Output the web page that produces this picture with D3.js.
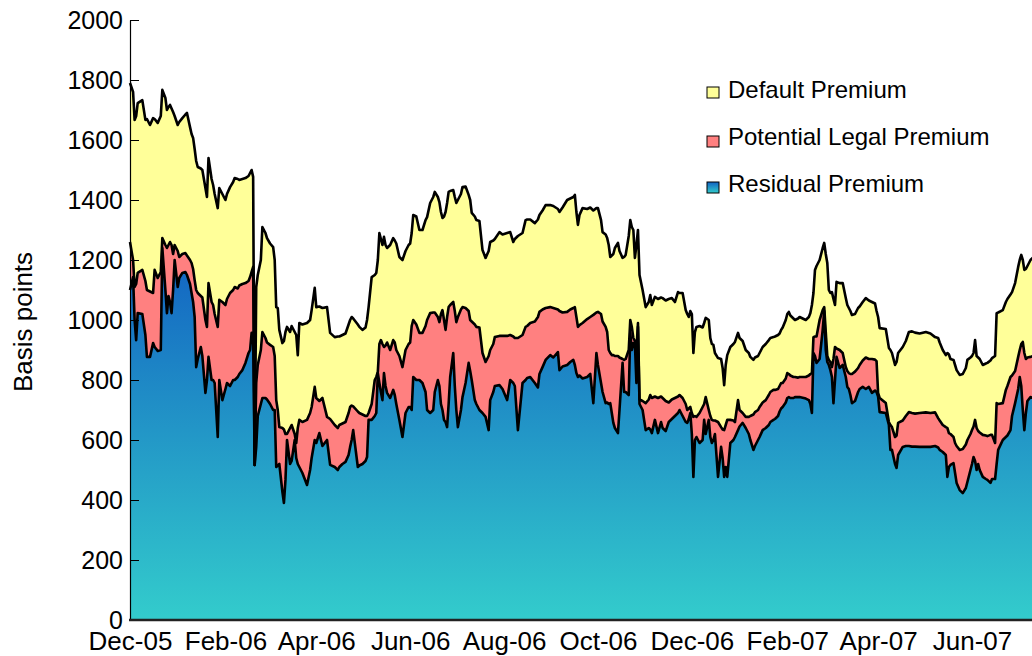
<!DOCTYPE html>
<html>
<head>
<meta charset="utf-8">
<script src="https://cdn.jsdelivr.net/npm/d3@7"></script>
<style>
html,body{margin:0;padding:0;background:#fff;}
svg{display:block;}
text{font-family:Arial,"Liberation Sans",sans-serif;fill:#000;}
</style>
</head>
<body>
<svg id="chart" width="1032" height="656"></svg>
<script>
// Days since 1 Dec 2005 for each observation
const dayOffsets = [0,2,3,4,5,8,10,11,13,15,16,18,20,21,23,24,25,26,27,28,29,31,32,34,36,37,39,40,41,42,43,44,46,47,49,50,51,53,54,55,57,58,60,62,63,65,67,68,70,71,73,75,77,78,79,80,81,82,83,85,86,88,89,91,93,94,95,96,97,99,100,101,102,104,105,107,108,109,110,112,115,117,118,120,121,123,125,128,130,133,135,136,138,140,142,143,144,145,148,149,151,153,154,155,157,159,160,161,162,163,164,165,166,167,169,171,172,173,175,177,179,181,182,183,184,186,188,190,192,193,195,197,198,200,201,202,203,204,205,206,207,208,210,211,212,213,215,216,218,220,221,222,224,225,227,229,231,233,234,236,237,240,242,245,247,249,250,252,255,257,258,260,263,265,266,268,270,273,275,278,279,281,284,286,288,289,290,291,292,294,297,299,301,303,304,306,307,309,310,311,312,313,314,315,317,318,320,321,322,324,325,326,327,328,329,330,331,333,335,337,338,339,341,343,345,346,348,350,352,354,356,357,359,361,362,363,364,365,366,367,368,370,372,373,374,376,377,378,379,380,382,384,385,386,387,388,390,392,393,395,396,398,400,402,403,405,406,408,409,411,413,415,416,418,419,421,422,423,424,426,427,428,429,431,432,434,435,439,441,442,443,444,445,446,448,450,451,452,453,454,455,456,457,458,459,461,463,465,466,467,468,469,471,473,474,476,478,480,482,484,485,486,487,491,493,494,495,497,498,499,502,504,506,508,510,513,517,520,523,525,526,528,530,531,532,533,535,536,537,539,541,543,544,546,547,548,549,550,551,552,554,556,557,559,560,562,563,564,567,569,570,572,573,575,577,578,579,580,581,582,583,585,587];

const residualPremium = [1100,1143,1000,933,1023,1020,950,877,877,923,910,897,900,1240,1100,1023,1080,1060,1023,1100,1200,1110,1140,1157,1160,1150,1120,1090,1060,1010,843,870,910,880,757,800,877,800,800,790,610,800,733,770,790,780,800,800,810,820,833,857,890,900,957,957,517,577,680,720,740,740,735,720,700,700,510,515,520,427,390,467,600,520,530,600,540,520,510,490,450,500,540,600,590,623,580,600,517,510,500,510,520,527,550,577,600,633,510,515,520,530,543,667,667,680,690,823,790,760,733,823,780,757,740,767,750,720,667,610,690,710,710,700,810,800,800,790,760,700,690,700,760,800,780,720,700,667,660,643,720,810,890,780,700,643,700,743,790,857,830,800,733,720,700,690,677,633,733,760,780,783,770,733,800,790,780,633,790,800,807,810,790,775,820,843,867,883,875,893,833,845,850,860,867,850,823,810,815,805,810,820,723,890,850,790,760,723,725,720,723,690,657,640,623,700,857,760,760,750,957,900,923,923,790,977,720,700,633,640,635,623,667,623,660,640,630,660,670,680,690,700,680,660,657,670,690,620,477,600,610,590,600,667,620,667,610,590,600,620,477,577,540,477,510,477,590,600,610,633,645,657,640,620,600,567,580,600,610,633,640,650,660,667,670,680,695,705,710,725,740,743,740,740,743,743,743,738,733,720,690,890,880,857,870,967,1030,900,860,850,833,810,723,800,877,840,850,810,777,770,750,723,730,760,770,777,770,777,757,765,760,745,693,690,650,567,567,520,507,550,577,580,580,578,578,577,577,577,580,575,567,560,550,477,510,517,523,490,457,433,423,440,460,500,520,543,530,500,520,500,477,470,467,457,470,470,520,567,600,610,615,633,680,723,770,810,780,700,633,690,730,743,740];

const legalPremium = [160,57,110,187,134,147,180,223,218,167,257,243,260,33,150,217,170,200,227,120,50,120,70,63,63,65,80,100,110,123,257,220,170,195,243,177,246,260,250,230,367,267,327,280,280,310,300,310,295,295,287,266,240,243,203,220,0,213,170,180,220,200,190,197,210,180,223,185,123,213,245,153,20,120,120,20,50,120,157,170,217,190,170,177,150,107,160,77,153,140,140,140,135,133,140,133,115,79,185,175,165,150,137,23,53,120,120,4,130,173,187,87,135,168,160,166,175,180,213,233,210,210,215,280,190,185,157,167,220,300,333,325,265,210,213,300,333,333,307,367,323,240,170,250,293,367,335,300,250,173,170,195,252,257,275,200,183,247,167,160,163,164,177,214,150,155,160,307,160,177,173,180,205,235,207,192,173,160,165,142,197,180,177,175,173,193,187,167,168,185,193,190,294,135,177,230,235,254,235,180,167,193,226,240,257,175,13,107,110,150,43,77,17,7,110,13,15,30,90,95,115,117,78,117,85,100,100,65,65,60,55,50,60,60,43,35,20,70,200,80,67,100,110,53,123,33,70,77,65,45,183,66,95,156,140,190,77,65,50,100,55,33,37,57,80,118,113,100,100,92,93,100,100,100,97,90,85,85,80,80,83,77,75,70,67,65,67,72,82,100,133,53,65,88,130,66,13,60,20,17,27,33,147,110,28,60,40,33,53,53,70,97,98,80,80,88,105,93,113,103,103,12,47,33,10,83,76,90,108,107,88,100,113,112,110,113,115,113,112,98,98,90,93,163,113,103,87,100,123,134,147,145,140,120,113,102,137,140,110,125,140,145,146,160,147,120,203,153,123,157,165,177,135,107,107,90,140,227,257,180,145,134,140];

const defaultPremium = [530,560,557,560,566,566,537,570,555,583,503,517,520,494,490,460,460,457,455,473,430,420,450,453,462,475,443,430,437,437,430,420,425,425,440,433,417,410,400,400,396,373,360,350,350,353,360,363,365,352,350,350,350,347,340,300,0,320,300,300,350,350,348,338,333,320,310,340,324,283,295,340,357,320,330,340,360,243,323,325,323,310,323,330,303,315,300,366,287,293,305,295,295,295,295,290,295,293,290,287,282,295,320,353,423,350,347,373,370,337,330,367,335,315,350,340,340,355,330,357,330,330,330,310,350,360,343,343,353,343,367,385,402,400,400,340,307,345,393,380,384,380,373,380,397,390,385,400,405,387,400,362,360,356,355,343,347,350,360,345,327,346,338,343,343,315,330,340,340,356,355,345,328,325,323,330,343,340,340,335,330,350,373,370,370,374,350,340,367,383,367,365,348,348,346,313,298,308,313,350,320,332,337,360,377,355,337,343,347,380,333,333,360,277,350,310,415,370,320,325,333,310,332,330,330,333,335,345,338,320,348,340,350,313,320,305,320,330,213,280,300,290,265,270,264,300,260,253,252,225,213,227,205,150,200,216,243,255,267,224,240,240,223,213,197,182,182,180,180,185,187,183,180,176,178,180,175,177,185,195,197,207,200,195,190,197,200,190,195,203,227,147,222,235,200,207,214,260,310,233,230,250,200,140,222,223,233,230,220,217,210,197,192,200,195,195,198,195,190,187,167,253,233,247,247,250,247,240,245,233,245,250,267,272,270,265,268,265,251,267,260,250,240,250,262,250,257,260,253,250,250,255,267,255,247,245,266,240,245,245,233,240,244,248,256,290,300,305,310,293,290,275,278,293,300,300,297,273,277,300,305,323,330];

const seriesNames = ["Residual Premium", "Potential Legal Premium", "Default Premium"];
const legendOrder = ["Default Premium", "Potential Legal Premium", "Residual Premium"];
const xTickLabels = ["Dec-05","Feb-06","Apr-06","Jun-06","Aug-06","Oct-06","Dec-06","Feb-07","Apr-07","Jun-07"];
const yTicks = [0,200,400,600,800,1000,1200,1400,1600,1800,2000];
const yTitle = "Basis points";

const startDate = new Date(Date.UTC(2005, 11, 1));

const n = Math.min(dayOffsets.length, residualPremium.length, legalPremium.length, defaultPremium.length);
const rows = [];
for (let i = 0; i < n; i++) {
  rows.push({
    date: d3.utcDay.offset(startDate, dayOffsets[i]),
    "Residual Premium": residualPremium[i],
    "Potential Legal Premium": legalPremium[i],
    "Default Premium": defaultPremium[i]
  });
}

const W = 1032, H = 656;
const svg = d3.select("#chart");

const x = d3.scaleUtc()
  .domain([startDate, new Date(Date.UTC(2007, 5, 1))])
  .range([130, 972]);
const y = d3.scaleLinear().domain([0, 2000]).range([620, 20]);

const stack = d3.stack().keys(seriesNames);
const layers = stack(rows);

const colors = {
  "Default Premium": "#FFFF99",
  "Potential Legal Premium": "#FF8080",
  "Residual Premium": "url(#resGrad)"
};

const defs = svg.append("defs");
const g1 = defs.append("linearGradient").attr("id", "resGrad")
  .attr("gradientUnits", "userSpaceOnUse")
  .attr("x1", 0).attr("x2", 0)
  .attr("y1", y(d3.max(residualPremium))).attr("y2", y(0));
g1.append("stop").attr("offset", "0%").attr("stop-color", "#1262C2");
g1.append("stop").attr("offset", "100%").attr("stop-color", "#33CCCC");
const g2 = defs.append("linearGradient").attr("id", "resGradBox")
  .attr("x1", 0).attr("x2", 0).attr("y1", 0).attr("y2", 1);
g2.append("stop").attr("offset", "0%").attr("stop-color", "#1262C2");
g2.append("stop").attr("offset", "100%").attr("stop-color", "#33CCCC");

const area = d3.area()
  .x(d => x(d.data.date))
  .y0(d => y(d[0]))
  .y1(d => y(d[1]));
const line = d3.line()
  .x(d => x(d.data.date))
  .y(d => y(d[1]));

svg.append("g").selectAll("path.area")
  .data(layers).join("path")
  .attr("class", "area")
  .attr("fill", d => colors[d.key])
  .attr("d", area);

svg.append("g").selectAll("path.line")
  .data(layers).join("path")
  .attr("class", "line")
  .attr("fill", "none")
  .attr("stroke", "#000")
  .attr("stroke-width", 2.6)
  .attr("stroke-linejoin", "round")
  .attr("d", line);

// Y axis
const yAxis = d3.axisLeft(y).tickValues(yTicks).tickFormat(d3.format("d"))
  .tickSizeInner(-9).tickSizeOuter(0).tickPadding(7);
const gy = svg.append("g").attr("transform", "translate(130,0)").call(yAxis);
gy.select(".domain").attr("stroke", "#000").attr("stroke-width", 1.2);
gy.selectAll(".tick line").attr("stroke", "#000");
gy.selectAll("text").attr("font-size", 25).attr("font-family", "Arial, 'Liberation Sans', sans-serif");

// X axis labels
const labelDates = xTickLabels.map((s, i) => d3.utcMonth.offset(startDate, i * 2));
const xAxis = d3.axisBottom(x).tickValues(labelDates)
  .tickFormat((d, i) => xTickLabels[i]).tickSize(0).tickPadding(12);
const gx = svg.append("g").attr("transform", "translate(0,620)").call(xAxis);
gx.select(".domain").remove();
gx.selectAll("text").attr("font-size", 26).attr("font-family", "Arial, 'Liberation Sans', sans-serif");
svg.append("line")
  .attr("x1", x.range()[0] - 1).attr("x2", W)
  .attr("y1", y(0)).attr("y2", y(0))
  .attr("stroke", "#222").attr("stroke-width", 2.5);

// Y title
svg.append("text")
  .attr("transform", "translate(32,322) rotate(-90)")
  .attr("text-anchor", "middle")
  .attr("font-size", 26)
  .text(yTitle);

// Legend
const legendColors = {
  "Default Premium": "#FFFF99",
  "Potential Legal Premium": "#FF8080",
  "Residual Premium": "url(#resGradBox)"
};
const swatchCenters = [93, 142, 188];
const textBaselines = [98, 145, 192];
const lg = svg.append("g");
legendOrder.forEach((name, i) => {
  lg.append("rect").attr("x", 707).attr("y", swatchCenters[i] - 6).attr("width", 12).attr("height", 11)
    .attr("fill", legendColors[name]).attr("stroke", "#000").attr("stroke-width", 1);
  lg.append("text").attr("x", 728).attr("y", textBaselines[i])
    .attr("font-size", 24).text(name);
});
</script>
</body>
</html>
